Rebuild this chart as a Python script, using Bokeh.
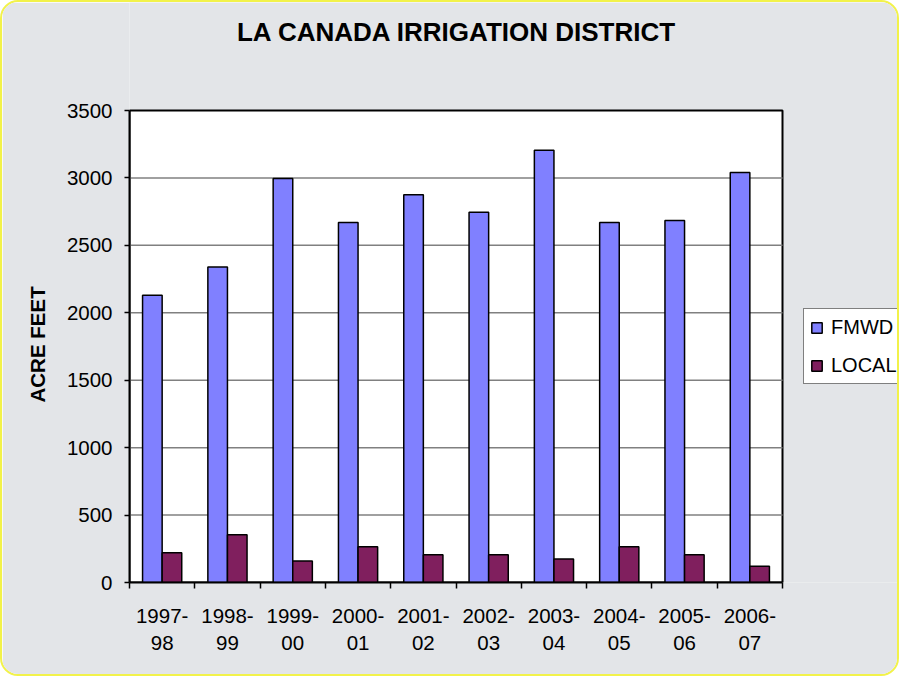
import numpy as np
from bokeh.plotting import figure
from bokeh.models import (FixedTicker, Range1d, Legend, LegendItem,
                          ColumnDataSource, Label, Title)
from bokeh.transform import dodge
from bokeh.embed import file_html
from bokeh.resources import INLINE

# ---- data -----------------------------------------------------------
title_text = "LA CANADA IRRIGATION DISTRICT"
y_label = "ACRE FEET"
categories = ["1997-98", "1998-99", "1999-00", "2000-01", "2001-02",
              "2002-03", "2003-04", "2004-05", "2005-06", "2006-07"]
fmwd = [2130, 2340, 2995, 2670, 2875, 2745, 3205, 2670, 2685, 3040]
local = [220, 355, 160, 265, 205, 205, 175, 265, 205, 120]
y_ticks = [0, 500, 1000, 1500, 2000, 2500, 3000, 3500]
series_names = ["FMWD", "LOCAL"]
series_colors = ["#8080FF", "#801F5E"]

# ---- layout constants (pixels) ---------------------------------------
FONT = "Liberation Sans"
BG = "#E3E5E8"
W, H = 899, 676
BL, BR, BT, BB = 127, 0, 0, 96          # borders around the frame
PLOT_W, PLOT_H = 653, 472               # size of the white plot box
FRAME_W = W - BL - BR
FRAME_H = H - BT - BB

n = len(categories)
centers = [i + 0.5 for i in range(n)]
bounds = [float(i) for i in range(n + 1)]
x_end = n * FRAME_W / PLOT_W            # room on the right for the legend
y_end = y_ticks[-1] * FRAME_H / PLOT_H  # room above for the title

src = ColumnDataSource(dict(x=centers, fmwd=fmwd, local=local, cat=categories))

p = figure(width=W, height=H, output_backend="svg", toolbar_location=None,
           x_range=Range1d(0, x_end), y_range=Range1d(0, y_end),
           min_border_left=BL, min_border_right=BR,
           min_border_top=BT, min_border_bottom=BB)
p.styles = {"border": "2px solid #F2F24A", "border-radius": "18px",
            "overflow": "hidden"}

p.border_fill_color = BG
p.background_fill_color = BG
p.outline_line_color = None

# title (inside the frame, above the plot box)
p.add_layout(Label(x=PLOT_W / 2 + 1, y=FRAME_H - 29, x_units="screen",
                   y_units="screen", text=title_text, text_font=FONT,
                   text_font_size="26px", text_font_style="bold",
                   text_color="black", text_align="center",
                   text_baseline="middle"))

# white plot box with black outline
p.quad(left=[0], right=[n], bottom=[y_ticks[0]], top=[y_ticks[-1]],
       fill_color="white", line_color="black", line_width=2, level="image")

# horizontal gridlines across the plot box only
p.segment(x0=[0] * (len(y_ticks) - 2), x1=[n] * (len(y_ticks) - 2),
          y0=y_ticks[1:-1], y1=y_ticks[1:-1],
          line_color="#808080", line_width=1.5, level="underlay")

r1 = p.vbar(x=dodge("x", -0.15), top="fmwd", width=0.3, source=src,
            fill_color=series_colors[0], line_color="black", line_width=1.5)
r2 = p.vbar(x=dodge("x", 0.15), top="local", width=0.3, source=src,
            fill_color=series_colors[1], line_color="black", line_width=1.5)

p.xgrid.visible = False
p.ygrid.visible = False

# y axis
ya = p.yaxis[0]
ya.bounds = (y_ticks[0], y_ticks[-1])
ya.ticker = FixedTicker(ticks=y_ticks)
ya.axis_line_color = "black"
ya.axis_line_width = 2
ya.major_tick_in = 0
ya.major_tick_out = 5
ya.major_tick_line_width = 1.5
ya.minor_tick_line_color = None
ya.major_label_text_font = FONT
ya.major_label_text_font_size = "20.5px"
ya.major_label_text_color = "black"
ya.major_label_standoff = 12

# y axis title, placed along the plot box
p.add_layout(Title(text=y_label, align="left", offset=180, standoff=29,
                   text_font=FONT, text_font_size="20.5px",
                   text_font_style="bold", text_color="black"), "left")

# x axis
xa = p.xaxis[0]
xa.bounds = (0, n)
xa.ticker = FixedTicker(ticks=centers, minor_ticks=bounds)
xa.major_label_overrides = {c: lab.replace("-", "-\n")
                            for c, lab in zip(centers, categories)}
xa.axis_line_color = "black"
xa.axis_line_width = 2
xa.major_tick_in = 0
xa.major_tick_out = 0
xa.major_tick_line_color = None
xa.minor_tick_in = 0
xa.minor_tick_out = 6
xa.minor_tick_line_color = "black"
xa.minor_tick_line_width = 1.5
xa.major_label_text_font = FONT
xa.major_label_text_font_size = "20.5px"
xa.major_label_text_color = "black"
xa.major_label_text_line_height = 1.2
xa.major_label_standoff = 15

legend = Legend(items=[LegendItem(label=series_names[0], renderers=[r1]),
                       LegendItem(label=series_names[1], renderers=[r2])],
                location=(PLOT_W + 21, 198))
legend.label_text_font = FONT
legend.label_text_font_size = "20px"
legend.label_text_color = "black"
legend.glyph_width = 13
legend.glyph_height = 13
legend.label_height = 24
legend.label_standoff = 8
legend.spacing = 14
legend.padding = 6
legend.margin = 0
legend.border_line_color = "black"
legend.border_line_width = 1
legend.background_fill_color = "white"
legend.background_fill_alpha = 1
p.add_layout(legend, "center")

open("out.html", "w").write(file_html(p, INLINE))
